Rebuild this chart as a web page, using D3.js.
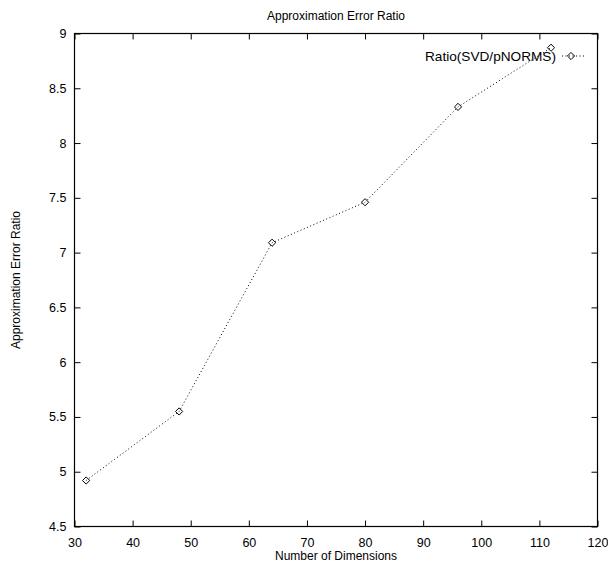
<!DOCTYPE html>
<html><head><meta charset="utf-8">
<script src="https://cdn.jsdelivr.net/npm/d3@7"></script>
<style>body{margin:0;background:#fff}text{font-family:"Liberation Sans",Arial,sans-serif;fill:#000}</style>
</head><body><svg id="c" width="608" height="563"></svg>
<script>
const dims = [32, 48, 64, 80, 96, 112];
const ratio = [4.92, 5.55, 7.09, 7.46, 8.33, 8.87];
const xTicks = [30, 40, 50, 60, 70, 80, 90, 100, 110, 120];
const yTicks = [4.5, 5, 5.5, 6, 6.5, 7, 7.5, 8, 8.5, 9];
const yTickLabels = ["4.5","5","5.5","6","6.5","7","7.5","8","8.5","9"];
const seriesName = "Ratio(SVD/pNORMS)";

const svg = d3.select("#c");
const L = 74.5, R = 597.5, T = 33.5, B = 526.5;
const x = d3.scaleLinear().domain([30, 120]).range([L, R]);
const y = d3.scaleLinear().domain([4.5, 9]).range([B, T]);
const fs = 12;

svg.append("rect").attr("x", L).attr("y", T).attr("width", R - L).attr("height", B - T)
  .attr("fill", "none").attr("stroke", "#000").attr("stroke-width", 1.2);

const tl = 6;
const gx = svg.append("g").attr("transform", `translate(0,${B})`)
  .call(d3.axisBottom(x).tickValues(xTicks).tickSizeInner(-tl).tickSizeOuter(0).tickPadding(12));
const gxt = svg.append("g").attr("transform", `translate(0,${T})`)
  .call(d3.axisTop(x).tickValues(xTicks).tickSizeInner(-tl).tickSizeOuter(0).tickFormat(""));
const gy = svg.append("g").attr("transform", `translate(${L},0)`)
  .call(d3.axisLeft(y).tickValues(yTicks).tickSizeInner(-tl).tickSizeOuter(0).tickPadding(8)
    .tickFormat((d, i) => yTickLabels[i]));
const gyr = svg.append("g").attr("transform", `translate(${R},0)`)
  .call(d3.axisRight(y).tickValues(yTicks).tickSizeInner(-tl).tickSizeOuter(0).tickFormat(""));
[gx, gxt, gy, gyr].forEach(g => {
  g.select(".domain").remove();
  g.selectAll(".tick line").attr("stroke", "#000");
  g.selectAll("text").attr("font-size", 12.5).attr("font-family", '"Liberation Sans",Arial,sans-serif');
});
gx.selectAll(".tick text").attr("dy", "0.71em");

const dsz = 3.6;
function diamond(cx, cy) {
  return `M${cx},${cy - dsz}L${cx + dsz},${cy}L${cx},${cy + dsz}L${cx - dsz},${cy}Z`;
}

// legend
const ly = 56;
svg.append("text").attr("x", 556).attr("y", ly).attr("dy", "0.35em").attr("text-anchor", "end")
  .attr("font-size", 13.5).attr("textLength", 131).attr("lengthAdjust", "spacingAndGlyphs").text(seriesName);
svg.append("line").attr("x1", 562).attr("x2", 584).attr("y1", ly).attr("y2", ly)
  .attr("stroke", "#000").attr("stroke-dasharray", "1,2.5");
svg.append("path").attr("d", diamond(571, ly)).attr("fill", "none").attr("stroke", "#000");

// series
const line = d3.line().x((d, i) => x(dims[i])).y(d => y(d));
svg.append("path").datum(ratio).attr("d", line).attr("fill", "none")
  .attr("stroke", "#000").attr("stroke-width", 1).attr("stroke-dasharray", "1,2.5");
svg.selectAll("path.pt").data(ratio).enter().append("path").attr("class", "pt")
  .attr("d", (d, i) => diamond(x(dims[i]), y(d)))
  .attr("fill", "none").attr("stroke", "#000").attr("stroke-width", 1);

svg.append("text").attr("x", (L + R) / 2).attr("y", 16).attr("dy", "0.35em").attr("text-anchor", "middle")
  .attr("font-size", fs).text("Approximation Error Ratio");
svg.append("text").attr("x", (L + R) / 2).attr("y", 556).attr("dy", "0.35em").attr("text-anchor", "middle")
  .attr("font-size", fs).text("Number of Dimensions");
svg.append("text").attr("transform", `translate(16,${(T + B) / 2}) rotate(-90)`).attr("dy", "0.35em")
  .attr("text-anchor", "middle").attr("font-size", fs).text("Approximation Error Ratio");
</script></body></html>
